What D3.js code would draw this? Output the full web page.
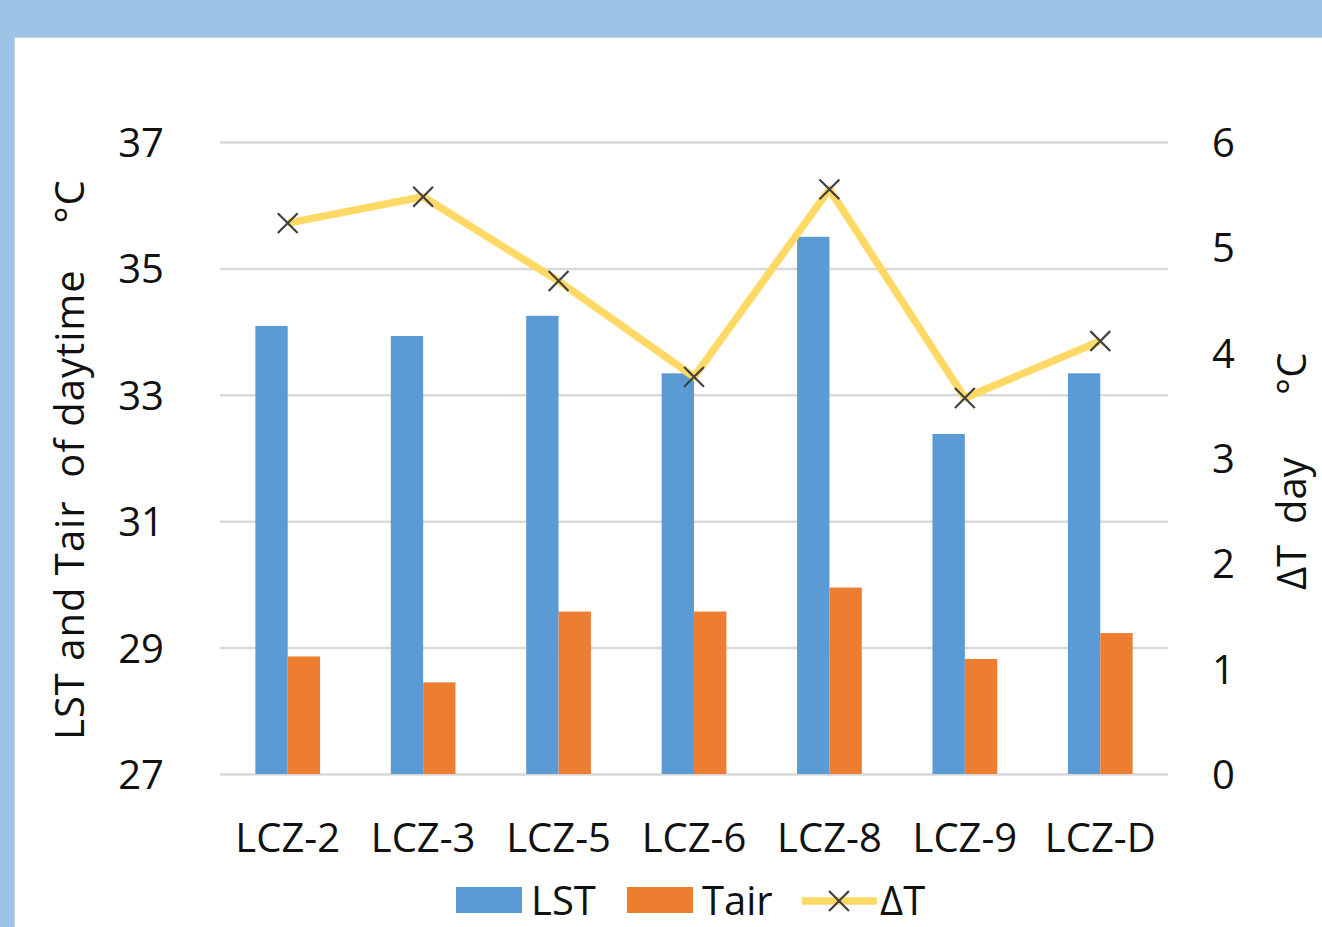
<!DOCTYPE html>
<html><head><meta charset="utf-8">
<script src="https://cdn.jsdelivr.net/npm/d3@7"></script>
<style>
html,body{margin:0;padding:0;background:#9DC3E6;}
svg{display:block;font-family:"Open Sans",sans-serif;}
</style></head>
<body>
<svg id="c" width="1322" height="927"></svg>
<script>
const categories = ["LCZ-2","LCZ-3","LCZ-5","LCZ-6","LCZ-8","LCZ-9","LCZ-D"];
const lstValues  = [34.09, 33.93, 34.25, 33.34, 35.50, 32.38, 33.34];
const tairValues = [28.86, 28.45, 29.57, 29.57, 29.95, 28.82, 29.23];
const deltaValues= [5.23, 5.48, 4.68, 3.77, 5.55, 3.57, 4.11];
const leftTicks  = [27, 29, 31, 33, 35, 37];
const rightTicks = [0, 1, 2, 3, 4, 5, 6];
const seriesNames = ["LST","Tair","ΔT"];

const svg = d3.select("#c");
// panel
svg.append("rect").attr("x",0).attr("y",0).attr("width",1322).attr("height",927).attr("fill","#9DC3E6");
svg.append("rect").attr("x",14).attr("y",37).attr("width",1310).attr("height",892).attr("fill","#D0D0D0");
svg.append("rect").attr("x",15).attr("y",38).attr("width",1310).attr("height",892).attr("fill","#FFFFFF");

const L = 220, R = 1168, T = 142, B = 774;
const x = d3.scaleBand().domain(categories).range([L, R]).padding(0);
const yL = d3.scaleLinear().domain([27, 37]).range([B, T]);
const yR = d3.scaleLinear().domain([0, 6]).range([B, T]);
const bw = x.bandwidth() * 0.239;
const cx = d => x(d) + x.bandwidth()/2;

// gridlines
const grid = svg.append("g").call(d3.axisLeft(yL).tickValues(leftTicks).tickSize(-(R-L)).tickFormat(""))
  .attr("transform",`translate(${L},0)`);
grid.select(".domain").remove();
grid.selectAll("line").attr("stroke","#D9D9D9").attr("stroke-width",2.5);

// left tick labels
const lax = svg.append("g").attr("transform",`translate(${L},0)`)
  .call(d3.axisLeft(yL).tickValues(leftTicks).tickSize(0).tickPadding(56).tickFormat(d3.format("d")));
lax.select(".domain").remove();
lax.selectAll("text").attr("font-family","Open Sans").attr("font-size",40).attr("fill","#111").attr("dy","0.36em");

// right tick labels
const rax = svg.append("g").attr("transform",`translate(${R},0)`)
  .call(d3.axisRight(yR).tickValues(rightTicks).tickSize(0).tickPadding(44).tickFormat(d3.format("d")));
rax.select(".domain").remove();
rax.selectAll("text").attr("font-family","Open Sans").attr("font-size",40).attr("fill","#111").attr("dy","0.36em");

// bottom category labels
const bax = svg.append("g").attr("transform",`translate(0,${B})`)
  .call(d3.axisBottom(x).tickSize(0).tickPadding(50));
bax.select(".domain").remove();
bax.selectAll("text").attr("font-family","Open Sans").attr("font-size",40).attr("fill","#111").attr("dy","0.71em");

// bars
svg.append("g").selectAll("rect").data(categories).join("rect")
  .attr("x", d => cx(d) - bw).attr("width", bw)
  .attr("y", (d,i) => yL(lstValues[i])).attr("height", (d,i) => B - yL(lstValues[i]))
  .attr("fill","#5B9BD5");
svg.append("g").selectAll("rect").data(categories).join("rect")
  .attr("x", d => cx(d)).attr("width", bw)
  .attr("y", (d,i) => yL(tairValues[i])).attr("height", (d,i) => B - yL(tairValues[i]))
  .attr("fill","#ED7D31");

// line
const line = d3.line().x((d,i) => cx(categories[i])).y(d => yR(d));
svg.append("path").datum(deltaValues).attr("d", line).attr("fill","none")
  .attr("stroke","#FFD966").attr("stroke-width",7.5).attr("stroke-linejoin","round");
const cross = d3.symbol().type(d3.symbolX).size(260);
svg.append("g").selectAll("path").data(deltaValues).join("path")
  .attr("transform",(d,i) => `translate(${cx(categories[i])},${yR(d)})`)
  .attr("d", cross).attr("fill","none").attr("stroke","#404040").attr("stroke-width",2.2);

// axis titles
svg.append("text").attr("transform","translate(84,740) rotate(-90)")
  .attr("text-anchor","start").attr("font-size",40).attr("fill","#111")
  .style("white-space","pre").attr("letter-spacing",1.0)
  .text("LST and Tair  of daytime    °C");
svg.append("text").attr("transform","translate(1306,590) rotate(-90)")
  .attr("text-anchor","start").attr("font-size",40).attr("fill","#111")
  .style("white-space","pre")
  .text("ΔT  day      °C");

// legend
const lg = svg.append("g");
lg.append("rect").attr("x",456).attr("y",887).attr("width",66).attr("height",26).attr("fill","#5B9BD5");
lg.append("text").attr("x",531).attr("y",915).attr("font-size",40).attr("fill","#111").text(seriesNames[0]);
lg.append("rect").attr("x",627).attr("y",887).attr("width",66).attr("height",26).attr("fill","#ED7D31");
lg.append("text").attr("x",702).attr("y",915).attr("font-size",40).attr("fill","#111").text(seriesNames[1]);
lg.append("line").attr("x1",802).attr("x2",877).attr("y1",901).attr("y2",901).attr("stroke","#FFD966").attr("stroke-width",7.5);
lg.append("path").attr("transform","translate(839,901)").attr("d",cross).attr("fill","none").attr("stroke","#404040").attr("stroke-width",2.2);
lg.append("text").attr("x",880).attr("y",915).attr("font-size",40).attr("fill","#111").text(seriesNames[2]);
</script>
</body></html>
